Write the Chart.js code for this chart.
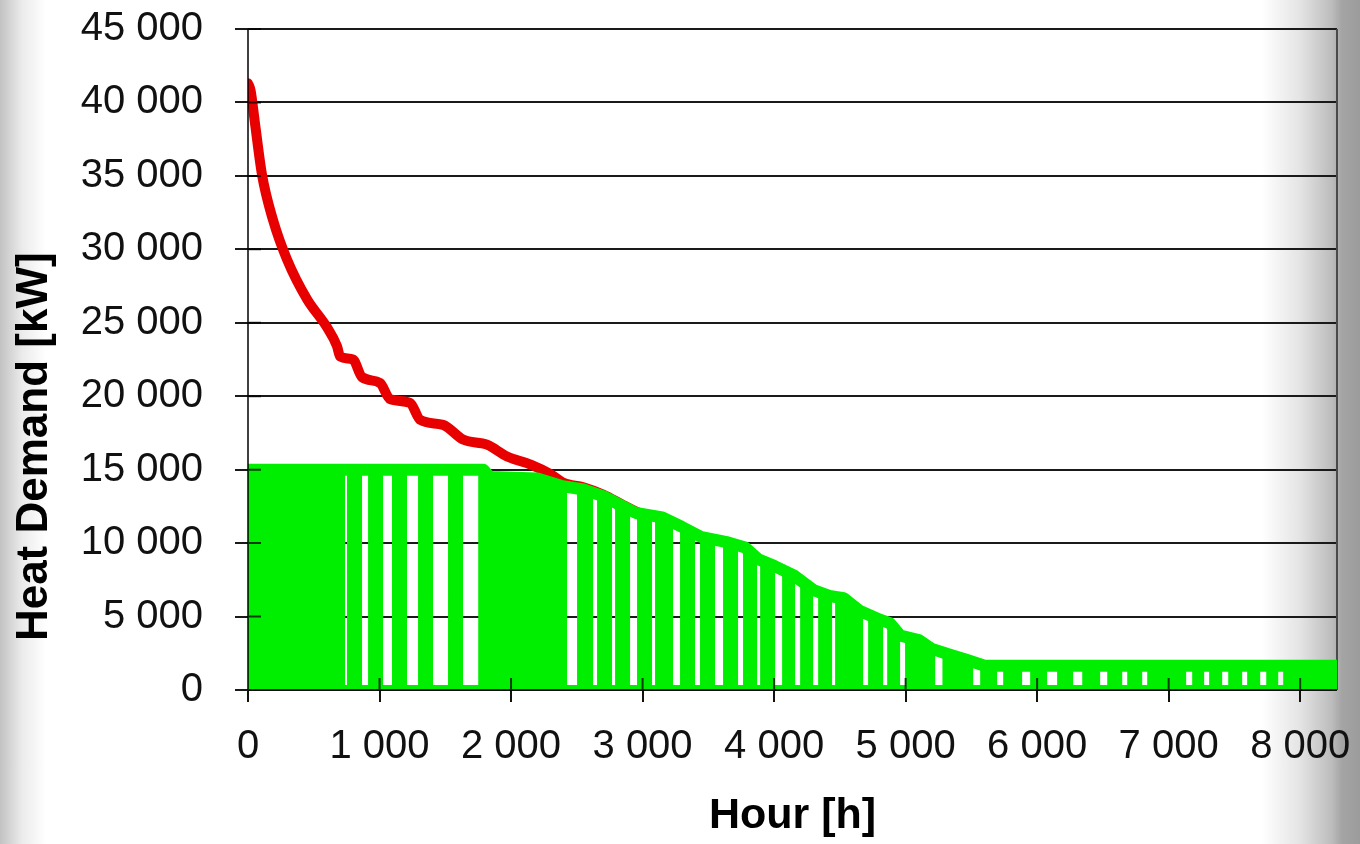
<!DOCTYPE html>
<html>
<head>
<meta charset="utf-8">
<script src="https://cdn.jsdelivr.net/npm/chart.js@4.4.1/dist/chart.umd.min.js"></script>
<style>
  html, body { margin: 0; padding: 0; }
  body {
    width: 1360px; height: 844px; overflow: hidden;
    background: linear-gradient(to right, #c2c2c2 0px, #ebebeb 22px, #ffffff 46px, #ffffff 1262px,
      #e4e4e4 1300px, #bcbcbc 1332px, #a4a4a4 1342px, #9c9c9c 1360px);
  }
  #wrap { position: relative; width: 1360px; height: 844px; }
</style>
</head>
<body>
<div id="wrap"><canvas id="myChart" width="1360" height="844"></canvas></div>
<script>
// heat demand duration curve (red)
const demandHours = [0, 20, 50, 106, 190, 297, 449, 600, 677, 700, 798, 867, 1004, 1080, 1232, 1308,
  1483, 1635, 1817, 1970, 2150, 2300, 2400, 2550, 2700, 2850, 2950, 3000];
const demandKW = [41300, 40800, 38800, 35100, 32000, 29300, 26600, 24700, 23400, 22700, 22500, 21300,
  20900, 19800, 19550, 18400, 18050, 17050, 16700, 15900, 15350, 14700, 14100, 13800, 13300, 12600, 12150, 11950];

// upper edge of the green CHP band
const chpTopHours = [0, 1790, 1840, 2200, 2380, 2550, 2700, 2850, 2950, 3150, 3300, 3450, 3650, 3780,
  3880, 4000, 4150, 4300, 4420, 4530, 4650, 4800, 4880, 4960, 5100, 5200, 5320, 5450, 5600, 8280];
const chpTopKW = [15000, 15000, 14500, 14400, 13900, 13650, 13200, 12500, 12050, 11750, 11100, 10400,
  10050, 9700, 8900, 8450, 7800, 6800, 6400, 6250, 5400, 4800, 4550, 3700, 3400, 2800, 2450, 2100, 1650, 1650];

// hours when the CHP is switched off
const offStart = [700, 829, 989, 1171, 1369, 1597, 2388, 2586, 2730, 2867, 3034, 3194, 3361, 3513, 3688,
  3833, 3970, 4122, 4259, 4403, 4639, 4791, 4920, 5187, 5476, 5658, 5848, 6038, 6236, 6441, 6609, 6761,
  7095, 7232, 7369, 7521, 7658, 7795];
const offEnd = [791, 951, 1133, 1331, 1559, 1787, 2540, 2692, 2829, 2996, 3133, 3323, 3475, 3650, 3802,
  3932, 4099, 4236, 4373, 4502, 4753, 4898, 5034, 5316, 5605, 5780, 5985, 6190, 6381, 6571, 6723, 6875,
  7217, 7346, 7491, 7635, 7780, 7909];
const offLevel = [15000, 15000, 15000, 15000, 15000, 15000, 13600, 13150, 12550, 11950, 11750, 10950,
  10350, 10050, 9500, 8700, 8000, 7200, 6550, 6280, 4980, 4350, 3540, 2460, 1650, 1650, 1650, 1650, 1650,
  1650, 1650, 1650, 1650, 1650, 1650, 1650, 1650, 1650];

const xTicks = [0, 1000, 2000, 3000, 4000, 5000, 6000, 7000, 8000];
const yTicks = [0, 5000, 10000, 15000, 20000, 25000, 30000, 35000, 40000, 45000];
const xMax = 8280;

const red = 'rgb(232,0,0)';
const green = 'rgb(0,238,0)';
const fmt = v => String(v).replace(/\B(?=(\d{3})+(?!\d))/g, ' ');

// build CHP output: envelope points during on-hours, zeros while off
const chpPoints = [];
let k = 0;
for (let i = 0; i < offStart.length; i++) {
  while (k < chpTopHours.length && chpTopHours[k] < offStart[i]) {
    chpPoints.push({x: chpTopHours[k], y: chpTopKW[k]});
    k++;
  }
  chpPoints.push({x: offStart[i], y: offLevel[i]}, {x: offStart[i], y: 0},
                 {x: offEnd[i], y: 0}, {x: offEnd[i], y: offLevel[i]});
  while (k < chpTopHours.length && chpTopHours[k] <= offEnd[i]) k++;
}
while (k < chpTopHours.length) {
  chpPoints.push({x: chpTopHours[k], y: chpTopKW[k]});
  k++;
}

const frame = {
  id: 'frame',
  beforeDatasetsDraw(chart) {
    const {ctx, chartArea: a} = chart;
    ctx.save();
    ctx.strokeStyle = '#4a4a4a';
    ctx.lineWidth = 2;
    ctx.beginPath();
    ctx.moveTo(a.right, a.top);
    ctx.lineTo(a.right, a.bottom);
    ctx.stroke();
    ctx.restore();
  },
  afterDatasetsDraw(chart) {
    const {ctx, chartArea: a, scales} = chart;
    ctx.save();
    ctx.strokeStyle = 'rgba(0,0,0,0.75)';
    ctx.lineWidth = 2;
    ctx.beginPath();
    ctx.moveTo(a.left, a.top);
    ctx.lineTo(a.left, a.bottom);
    ctx.moveTo(a.left, a.bottom);
    ctx.lineTo(a.right, a.bottom);
    xTicks.forEach(v => {
      const px = scales.x.getPixelForValue(v);
      ctx.moveTo(px, a.bottom - 12);
      ctx.lineTo(px, a.bottom);
    });
    yTicks.forEach(v => {
      const py = scales.y.getPixelForValue(v);
      ctx.moveTo(a.left, py);
      ctx.lineTo(a.left + 13, py);
    });
    ctx.stroke();
    ctx.restore();
  }
};

const ctx = document.getElementById('myChart').getContext('2d');
const chart = new Chart(ctx, {
  type: 'line',
  data: {
    datasets: [
      {
        label: 'CHP max',
        data: chpTopHours.map((h, i) => ({x: h, y: chpTopKW[i]})),
        borderColor: green,
        borderWidth: 12,
        borderJoinStyle: 'round',
        pointRadius: 0,
        fill: false,
        tension: 0,
        order: 0
      },
      {
        label: 'CHP output',
        data: chpPoints,
        borderColor: green,
        backgroundColor: green,
        borderWidth: 10,
        borderJoinStyle: 'bevel',
        pointRadius: 0,
        fill: 'origin',
        tension: 0,
        order: 1
      },
      {
        label: 'Heat demand',
        data: demandHours.map((h, i) => ({x: h, y: demandKW[i]})),
        borderColor: red,
        borderWidth: 10,
        borderCapStyle: 'round',
        borderJoinStyle: 'round',
        pointRadius: 0,
        fill: false,
        cubicInterpolationMode: 'monotone',
        order: 2
      }
    ]
  },
  options: {
    responsive: false,
    animation: false,
    layout: { padding: { top: 29, right: 23, left: 0, bottom: 0 } },
    plugins: { legend: { display: false }, tooltip: { enabled: false } },
    scales: {
      x: {
        type: 'linear',
        min: 0,
        max: xMax,
        afterFit: s => { s.height = 154; s.paddingLeft = 0; s.paddingRight = 0; },
        afterBuildTicks: s => { s.ticks = xTicks.map(v => ({value: v})); },
        border: { display: false },
        grid: { drawOnChartArea: false, drawTicks: true, tickLength: 12, color: '#111', lineWidth: 2 },
        ticks: {
          callback: v => fmt(v),
          color: '#111',
          padding: 21,
          maxRotation: 0,
          autoSkip: false,
          font: { family: 'Liberation Sans, Arial, sans-serif', size: 40 }
        },
        title: {
          display: true,
          text: 'Hour [h]',
          color: '#000',
          padding: { top: 0, bottom: 2 },
          font: { family: 'Liberation Sans, Arial, sans-serif', size: 43, weight: 'bold' }
        }
      },
      y: {
        min: 0,
        max: 45000,
        afterFit: s => { s.width = 248; s.paddingTop = 0; s.paddingBottom = 0; },
        afterBuildTicks: s => { s.ticks = yTicks.map(v => ({value: v})); },
        border: { display: false },
        grid: { color: '#1a1a1a', lineWidth: 2, tickLength: 13 },
        ticks: {
          callback: v => fmt(v),
          color: '#111',
          padding: 32,
          font: { family: 'Liberation Sans, Arial, sans-serif', size: 40 }
        },
        title: {
          display: true,
          text: '    Heat Demand [kW]',
          align: 'start',
          color: '#000',
          padding: { top: 8, bottom: 0 },
          font: { family: 'Liberation Sans, Arial, sans-serif', size: 44, weight: 'bold' }
        }
      }
    }
  },
  plugins: [frame]
});
</script>
</body>
</html>
